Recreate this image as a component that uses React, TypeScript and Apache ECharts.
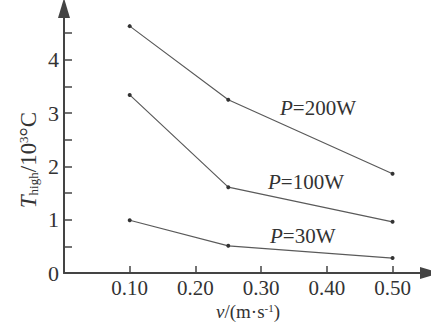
import React, { useEffect, useRef } from "react";
import * as echarts from "echarts";

const xValues = [0.1, 0.25, 0.5];
const p200 = [4.63, 3.25, 1.86];
const p100 = [3.34, 1.61, 0.96];
const p30 = [0.99, 0.51, 0.28];
const seriesNames = ["P=200W", "P=100W", "P=30W"];
const xTickValues = [0.1, 0.2, 0.3, 0.4, 0.5];
const yLabelValues = [0, 1, 2, 3, 4];
const yTickValues = [0.5, 1, 1.5, 2, 2.5, 3, 3.5, 4, 4.5];

const FONT = "Liberation Serif";
const TEXT = "#333";
const AXIS = "#444";
const LINE = "#5a5a5a";

export default function App() {
  const ref = useRef<HTMLDivElement>(null);
  useEffect(() => {
    if (!ref.current) return;
    const chart = echarts.init(ref.current, null, { renderer: "svg" });
    const mk = (name: string, vals: number[]) => ({
      name,
      type: "line",
      data: xValues.map((x, i) => [x, vals[i]]),
      symbol: "circle",
      symbolSize: 4,
      itemStyle: { color: "#333" },
      lineStyle: { color: LINE, width: 1.2 },
    });
    const labelRich = {
      i: { fontFamily: FONT, fontSize: 21, fontStyle: "italic", fill: TEXT },
      n: { fontFamily: FONT, fontSize: 21, fill: TEXT },
    };
    const pText = (name: string, x: number, y: number) => {
      const rest = name.slice(1);
      return {
        type: "text",
        x,
        y,
        style: {
          text: `{i|P}{n|${rest}}`,
          rich: labelRich,
          fill: TEXT,
          verticalAlign: "middle",
          align: "left",
        },
      };
    };
    chart.setOption({
      animation: false,
      grid: { left: 64, top: 8, right: 1, bottom: 49 },
      xAxis: {
        type: "value",
        min: 0,
        max: 0.557,
        axisLine: {
          show: true,
          lineStyle: { color: AXIS, width: 2 },
          symbol: ["none", "triangle"],
          symbolSize: [12, 20],
        },
        axisTick: {
          show: true,
          inside: true,
          length: 7,
          customValues: xTickValues,
          lineStyle: { color: AXIS, width: 1.5 },
        },
        axisLabel: {
          customValues: xTickValues,
          formatter: (v: number) => v.toFixed(2),
          fontFamily: FONT,
          fontSize: 21,
          color: TEXT,
          margin: 4,
        },
        splitLine: { show: false },
      },
      yAxis: {
        type: "value",
        min: 0,
        max: 4.97,
        axisLine: {
          show: true,
          lineStyle: { color: AXIS, width: 2 },
          symbol: ["none", "triangle"],
          symbolSize: [12, 20],
        },
        axisTick: {
          show: true,
          inside: true,
          length: 8,
          customValues: yTickValues,
          lineStyle: { color: AXIS, width: 1.5 },
        },
        axisLabel: {
          customValues: yLabelValues,
          fontFamily: FONT,
          fontSize: 22,
          color: TEXT,
          margin: 5,
        },
        splitLine: { show: false },
      },
      series: [mk(seriesNames[0], p200), mk(seriesNames[1], p100), mk(seriesNames[2], p30)],
      graphic: [
        pText(seriesNames[0], 280, 108),
        pText(seriesNames[1], 268, 182),
        pText(seriesNames[2], 270, 236),
        {
          type: "text",
          x: 248,
          y: 311,
          style: {
            text: "{i|v}{n|/(m·s}{s|-1}{n|)}",
            rich: {
              i: { fontFamily: FONT, fontSize: 19, fontStyle: "italic", fill: TEXT },
              n: { fontFamily: FONT, fontSize: 19, fill: TEXT },
              s: { fontFamily: FONT, fontSize: 11, fill: TEXT, padding: [0, 0, 7, 0] },
            },
            align: "center",
            verticalAlign: "middle",
          },
        },
        {
          type: "text",
          x: 28,
          y: 160,
          rotation: Math.PI / 2,
          style: {
            text: "{i|T}{b|high}{n|/10}{s|3}{n|°C}",
            rich: {
              i: { fontFamily: FONT, fontSize: 23, fontStyle: "italic", fill: TEXT },
              b: { fontFamily: FONT, fontSize: 13, fill: TEXT, padding: [11, 0, 0, 0] },
              n: { fontFamily: FONT, fontSize: 23, fill: TEXT },
              s: { fontFamily: FONT, fontSize: 13, fill: TEXT, padding: [0, 0, 9, 0] },
            },
            align: "center",
            verticalAlign: "middle",
          },
        },
      ],
    });
    return () => chart.dispose();
  }, []);
  return (
    <div
      ref={ref}
      style={{ position: "fixed", left: 0, top: 0, width: 431, height: 322, background: "#fff" }}
    />
  );
}
